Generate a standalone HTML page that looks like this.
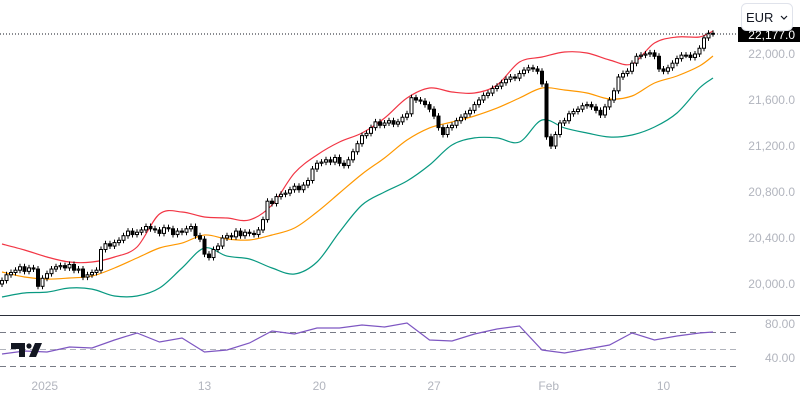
<!DOCTYPE html>
<html><head><meta charset="utf-8">
<style>
html,body{margin:0;padding:0;background:#fff;}
body{width:800px;height:400px;overflow:hidden;font-family:"Liberation Sans",sans-serif;}
svg text{font-family:"Liberation Sans",sans-serif;}
</style></head>
<body>
<svg id="chart" width="800" height="400" viewBox="0 0 800 400" xmlns="http://www.w3.org/2000/svg">
  <g id="rsi-guides">
    <line x1="0" y1="332.5" x2="737" y2="332.5" stroke="#787b86" stroke-dasharray="6,4"/>
    <line x1="0" y1="349.5" x2="737" y2="349.5" stroke="#b0b3bb" stroke-dasharray="6,4"/>
    <line x1="0" y1="366.5" x2="737" y2="366.5" stroke="#787b86" stroke-dasharray="6,4"/>
  </g>
  <line x1="0" y1="315.5" x2="800" y2="315.5" stroke="#2a2e39" stroke-width="1"/>
  <g id="bands"></g>
  <g id="candles"></g>
  <g id="rsi"></g>
  <g id="yaxis"></g>
  <g id="xaxis"></g>
  <line x1="0" y1="34" x2="738" y2="34" stroke="#131722" stroke-dasharray="1,2"/>
  <g>
    <rect x="738" y="27" width="62" height="15" fill="#000"/>
    <text x="795" y="39" text-anchor="end" font-size="12" fill="#fff">22,177.0</text>
  </g>
  <g>
    <rect x="741.5" y="3.5" width="51" height="27" rx="5" fill="#fff" stroke="#e0e3eb"/>
    <text x="746" y="22" font-size="13" fill="#131722">EUR</text>
    <path d="M781 16 l3 3 l3 -3" fill="none" stroke="#131722" stroke-width="1.2"/>
  </g>
  <g fill="#131722">
    <path d="M11 343 H25 V357 H19 V349 H11 Z"/>
    <circle cx="29" cy="346" r="2.6"/>
    <path d="M35 343 H42 L36 357 H29 Z"/>
  </g>
</svg>
<script>
const closes = [20030,20080,20100,20120,20150,20110,20140,20130,19980,20050,
20090,20130,20150,20160,20140,20170,20120,20130,20060,20080,
20100,20120,20300,20350,20330,20360,20380,20420,20460,20430,
20450,20470,20500,20480,20470,20440,20490,20480,20430,20460,
20450,20480,20500,20420,20390,20260,20230,20300,20330,20400,
20420,20410,20460,20420,20450,20440,20430,20470,20560,20720,
20700,20760,20780,20790,20820,20850,20820,20860,20900,21000,
21050,21060,21080,21060,21100,21050,21030,21080,21150,21220,
21290,21310,21360,21410,21380,21400,21420,21390,21410,21450,
21480,21620,21600,21590,21560,21520,21460,21360,21300,21360,
21380,21420,21450,21480,21510,21560,21600,21640,21660,21700,
21720,21750,21780,21800,21790,21830,21860,21880,21870,21850,
21740,21280,21200,21300,21400,21420,21480,21500,21520,21550,
21560,21540,21510,21470,21540,21600,21680,21800,21830,21850,
21920,21980,21990,22000,22010,21980,21870,21850,21880,21920,
21960,21990,21990,21970,22000,22050,22140,22180,22177];
const bandIdx = [0,5,10,15,20,25,30,35,40,45,50,55,60,65,70,75,80,85,90,95,100,105,110,115,120,125,130,135,140,145,150,155,158];
const upperBand = [20348,20296,20235,20191,20191,20235,20322,20609,20626,20583,20574,20557,20687,20965,21122,21235,21313,21443,21617,21704,21670,21661,21730,21930,21974,22017,22009,21948,21913,22096,22148,22148,22200];
const middleBand = [20104,20061,20043,20052,20069,20139,20226,20313,20356,20426,20391,20383,20426,20487,20626,20791,20956,21096,21252,21357,21409,21461,21530,21617,21704,21687,21661,21609,21635,21748,21809,21896,21983];
const lowerBand = [19887,19922,19930,19965,19956,19896,19896,19965,20139,20313,20243,20217,20139,20087,20191,20452,20687,20800,20896,21035,21209,21270,21270,21235,21426,21357,21313,21278,21296,21365,21487,21704,21791];
const rsiValues = [44.7,48.2,47.1,52.9,51.8,61.2,69.4,58.8,63.5,47.1,49.4,57.6,71.8,68.2,75.3,75.3,78.8,76.5,81.2,61.2,60,68.2,74.1,77.6,49.4,45.9,50.6,55.3,69.4,61.2,65.9,69.4,70.6];
const priceTicks = [22000,21600,21200,20800,20400,20000];
const rsiTicks = [80,40];
const timeLabels = ["2025","13","20","27","Feb","10"];
const timeLabelIdx = [9.5,45,70.5,96,121.5,147];

const NS="http://www.w3.org/2000/svg";
const xS = i => 2 + 4.5*i;
const yP = v => 54 + (22000 - v)*0.115;
const yR = v => 324 + (80 - v)*0.85;
function mk(tag, attrs, parent){const e=document.createElementNS(NS,tag);for(const k in attrs)e.setAttribute(k,attrs[k]);parent.appendChild(e);return e;}
function smooth(pts){
  let d='M'+pts[0][0].toFixed(1)+','+pts[0][1].toFixed(1);
  for(let i=0;i<pts.length-1;i++){
    const p0=pts[Math.max(0,i-1)],p1=pts[i],p2=pts[i+1],p3=pts[Math.min(pts.length-1,i+2)];
    const c1x=p1[0]+(p2[0]-p0[0])/6,c1y=p1[1]+(p2[1]-p0[1])/6;
    const c2x=p2[0]-(p3[0]-p1[0])/6,c2y=p2[1]-(p3[1]-p1[1])/6;
    d+=' C'+c1x.toFixed(1)+','+c1y.toFixed(1)+' '+c2x.toFixed(1)+','+c2y.toFixed(1)+' '+p2[0].toFixed(1)+','+p2[1].toFixed(1);
  }
  return d;
}

const bands=document.getElementById('bands');
[[upperBand,'#f23645','upper-band'],[middleBand,'#ff9800','middle-band'],[lowerBand,'#089981','lower-band']].forEach(([arr,col,nm])=>{
  const pts=arr.map((v,k)=>[xS(bandIdx[k]),yP(v)]);
  const p=mk('path',{d:smooth(pts),fill:'none',stroke:col,'stroke-width':1.2,'stroke-linejoin':'round'},bands);
  
  
});

const cg=document.getElementById('candles');
closes.forEach((c,i)=>{
  const o = i===0 ? 20000 : closes[i-1];
  const up = c>=o;
  const x=xS(i);
  const top=yP(Math.max(o,c)), bot=yP(Math.min(o,c));
  const g=mk('g',{},cg);
  
  
  mk('line',{x1:x,x2:x,y1:top-3,y2:bot+3,stroke:'#000','stroke-width':1},g);
  mk('rect',{x:x-1.5,y:top,width:3,height:Math.max(1,bot-top),fill:up?'#fff':'#000',stroke:'#000','stroke-width':1},g);
});

const rg=document.getElementById('rsi');
const rp=mk('polyline',{points:rsiValues.map((v,k)=>xS(bandIdx[k]).toFixed(1)+','+yR(v).toFixed(1)).join(' '),fill:'none',stroke:'#7e57c2','stroke-width':1.2},rg);



const ya=document.getElementById('yaxis');
priceTicks.forEach(v=>{
  const t=mk('text',{x:795,y:yP(v)+4,'text-anchor':'end','font-size':12,fill:'#b2b5be'},ya);
  t.textContent=v.toLocaleString('en-US',{minimumFractionDigits:1});
  
  
});
rsiTicks.forEach(v=>{
  const t=mk('text',{x:795,y:yR(v)+4,'text-anchor':'end','font-size':12,fill:'#b2b5be'},ya);
  t.textContent=v.toFixed(2);
  
  
});
const xa=document.getElementById('xaxis');
timeLabels.forEach((l,k)=>{
  const t=mk('text',{x:xS(timeLabelIdx[k]),y:390,'text-anchor':'middle','font-size':12,fill:'#b2b5be'},xa);
  t.textContent=l;
  
  
});
</script>
</body></html>
